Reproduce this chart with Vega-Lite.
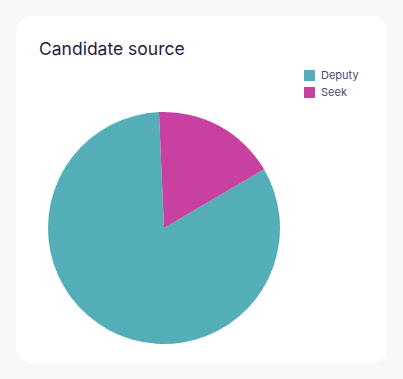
{
  "$schema": "https://vega.github.io/schema/vega-lite/v6.json",
  "width": 371,
  "height": 347,
  "autosize": {"type": "none"},
  "padding": {"left": 16, "top": 16, "right": 16, "bottom": 16},
  "background": "#f7f8fa",
  "view": {"fill": "#ffffff", "stroke": null, "cornerRadius": 16},
  "title": {
    "text": "Candidate source",
    "anchor": "start",
    "frame": "group",
    "orient": "top",
    "offset": 0,
    "baseline": "alphabetic",
    "dx": 23,
    "dy": 56,
    "font": "Inter",
    "fontSize": 17.5,
    "fontWeight": 400,
    "color": "#1f1d3d"
  },
  "data": {
    "values": [
      {"source": "Deputy", "count": 82.75},
      {"source": "Seek", "count": 17.25}
    ]
  },
  "mark": {"type": "arc", "outerRadius": 116, "xOffset": -37.5, "yOffset": 38.5, "stroke": null},
  "encoding": {
    "theta": {
      "field": "count",
      "type": "quantitative",
      "stack": true,
      "scale": {"range": [-0.0436, 6.2396]}
    },
    "order": {"field": "source", "sort": "descending"},
    "color": {
      "field": "source",
      "type": "nominal",
      "scale": {"domain": ["Deputy", "Seek"], "range": ["#54aeb7", "#c840a0"]},
      "legend": {
        "title": null,
        "orient": "none",
        "legendX": 288,
        "legendY": 54,
        "symbolType": "square",
        "symbolSize": 121,
        "symbolStrokeWidth": 0,
        "symbolOpacity": 1,
        "labelFont": "Inter",
        "labelFontSize": 11,
        "labelColor": "#4b4870",
        "rowPadding": 5,
        "labelOffset": 6,
        "padding": 0
      }
    }
  }
}
